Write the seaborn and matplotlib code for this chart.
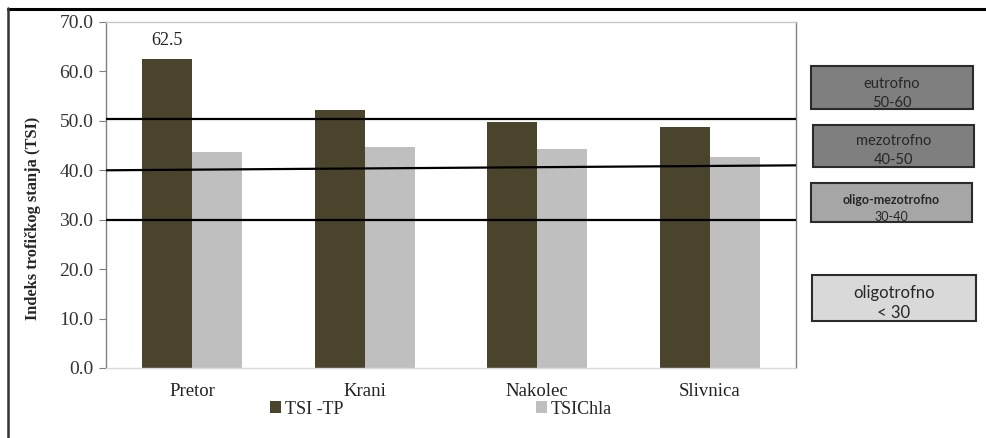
"""Trophic state index (TSI) by location, with trophic class boxes on the right."""

import pandas as pd
import seaborn as sns
import matplotlib.pyplot as plt
import matplotlib.patches as mpatches
from matplotlib.lines import Line2D

# Data
LOCATIONS = ["Pretor", "Krani", "Nakolec", "Slivnica"]
TSI_TP = [62.5, 52.2, 49.8, 48.8]
TSI_CHLA = [43.8, 44.8, 44.3, 42.7]
SERIES = ["TSI -TP", "TSIChla"]
COLORS = ["#4a442d", "#bfbfbf"]

# Class limits as drawn (left end, right end)
LIMIT_LEFT = [50.3, 40.0, 30.0]
LIMIT_RIGHT = [50.3, 41.0, 30.0]

CLASS_NAMES = ["eutrofno", "mezotrofno", "oligo-mezotrofno", "oligotrofno"]
CLASS_RANGES = ["50-60", "40-50", "30-40", "< 30"]
CLASS_COLORS = ["#7f7f7f", "#7f7f7f", "#a6a6a6", "#d9d9d9"]

W, H = 986, 438
SERIF = ["Liberation Serif", "DejaVu Serif"]


def fx(x):
    return x / W


def fy(y):
    return 1 - y / H


def main():
    df = pd.DataFrame({
        "Lokacija": LOCATIONS * 2,
        "Indeks": [SERIES[0]] * 4 + [SERIES[1]] * 4,
        "TSI": TSI_TP + TSI_CHLA,
    })

    sns.set_theme(style="white")
    plt.rcParams["font.family"] = SERIF

    fig = plt.figure(figsize=(W / 100, H / 100), dpi=100)
    ax = fig.add_axes([fx(106), fy(368), fx(796) - fx(106), fy(22) - fy(368)])

    sns.barplot(data=df, x="Lokacija", y="TSI", hue="Indeks", order=LOCATIONS,
                hue_order=SERIES, palette=COLORS, saturation=1, width=0.58,
                linewidth=0, ax=ax)

    ax.bar_label(ax.containers[0], labels=["62.5", "", "", ""], padding=7,
                 fontsize=13, color="#222222")

    # Class limit lines
    for left, right in zip(LIMIT_LEFT, LIMIT_RIGHT):
        ax.plot([0, 1], [left, right], color="black", linewidth=1.6,
                transform=ax.get_yaxis_transform(), zorder=5)

    ax.set_xlim(-0.5, 3.5)
    ax.set_ylim(0, 70)
    ax.set_yticks(range(0, 71, 10))
    ax.set_yticklabels([f"{v:.1f}" for v in range(0, 71, 10)])
    ax.set_xlabel("")
    ax.set_ylabel("")
    ax.tick_params(axis="y", which="major", left=True, length=5, width=0.8,
                   color="#808080", labelsize=14, labelcolor="#333333", pad=4)
    ax.tick_params(axis="x", length=0, labelsize=13.5, labelcolor="#222222",
                   pad=11)

    ax.spines["left"].set_color("#808080")
    ax.spines["right"].set_color("#808080")
    ax.spines["top"].set_color("#c8c8c8")
    ax.spines["bottom"].set_color("#d9d9d9")
    for s in ax.spines.values():
        s.set_linewidth(1.0)

    fig.text(fx(33), fy(218), "Indeks trofičkog stanja (TSI)", rotation=90,
             ha="center", va="center", fontsize=11.8, fontweight="bold")

    # Legend under the axis
    sns.move_legend(ax, "center", bbox_to_anchor=(fx(441), fy(409)),
                    bbox_transform=fig.transFigure, ncol=2, frameon=False,
                    title=None, prop={"family": SERIF, "size": 13},
                    handlelength=0.6, handleheight=0.6, handletextpad=0.2,
                    columnspacing=10.7)

    # Trophic class boxes
    boxes = [(811, 66, 973, 109), (813, 125, 974, 167),
             (811, 183, 972, 222), (812, 275, 976, 321)]
    name_y = [84, 141, 200, 293]
    range_y = [103, 160, 217, 313]
    sizes = [10.5, 10.5, 9, 12]
    for i, (x0, y0, x1, y1) in enumerate(boxes):
        rect = mpatches.Rectangle((fx(x0), fy(y1)), fx(x1) - fx(x0),
                                  fy(y0) - fy(y1), transform=fig.transFigure,
                                  facecolor=CLASS_COLORS[i], edgecolor="#2b2b2b",
                                  linewidth=1.5)
        fig.patches.append(rect)
        cx = fx((x0 + x1) / 2)
        fig.text(cx, fy(name_y[i]), CLASS_NAMES[i], ha="center", va="center",
                 fontsize=sizes[i], family="Lato", color="#262626",
                 fontweight="bold" if i == 2 else "normal")
        fig.text(cx, fy(range_y[i]), CLASS_RANGES[i], ha="center", va="center",
                 fontsize=sizes[i], family="Lato", color="#262626")

    # Outer frame (top and left edges)
    fig.lines.append(Line2D([fx(8), 1], [fy(9), fy(9)], color="black",
                            linewidth=2.2, transform=fig.transFigure))
    fig.lines.append(Line2D([fx(8), fx(8)], [fy(8), 0], color="#333333",
                            linewidth=1.8, transform=fig.transFigure))

    fig.savefig("out.png", dpi=100)
    plt.close(fig)


if __name__ == "__main__":
    main()
